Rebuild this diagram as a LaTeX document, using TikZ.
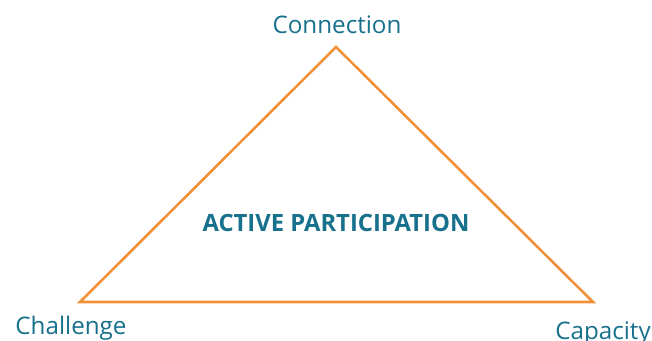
\documentclass[tikz,border=0pt]{standalone}
\usepackage{fontspec}
\setmainfont{Open Sans}
\definecolor{teal1}{HTML}{17708C}
\definecolor{orange1}{HTML}{F0913A}
\begin{document}
\begin{tikzpicture}[x=1pt,y=-1pt,
  lbl/.style={text=teal1,font=\fontsize{24.2}{28}\selectfont,anchor=base,inner sep=0pt},
  tri/.style={draw=orange1,line width=2.6pt,line join=miter}]
\useasboundingbox (0,0) rectangle (652,340);
\coordinate (top) at (336,47);
\coordinate (bl) at (80,302);
\coordinate (br) at (593,302);
\draw[tri] (top) -- (bl) -- (br) -- cycle;
\node[lbl] (conn) at (337,33) {Connection};
\node[lbl] (chal) at (71,334) {Challenge};
\node[lbl] (cap) at (603,339) {Capacity};
\node[lbl,font=\fontsize{23.8}{28}\selectfont\bfseries] (ap) at (336,231) {ACTIVE PARTICIPATION};
\end{tikzpicture}
\end{document}
